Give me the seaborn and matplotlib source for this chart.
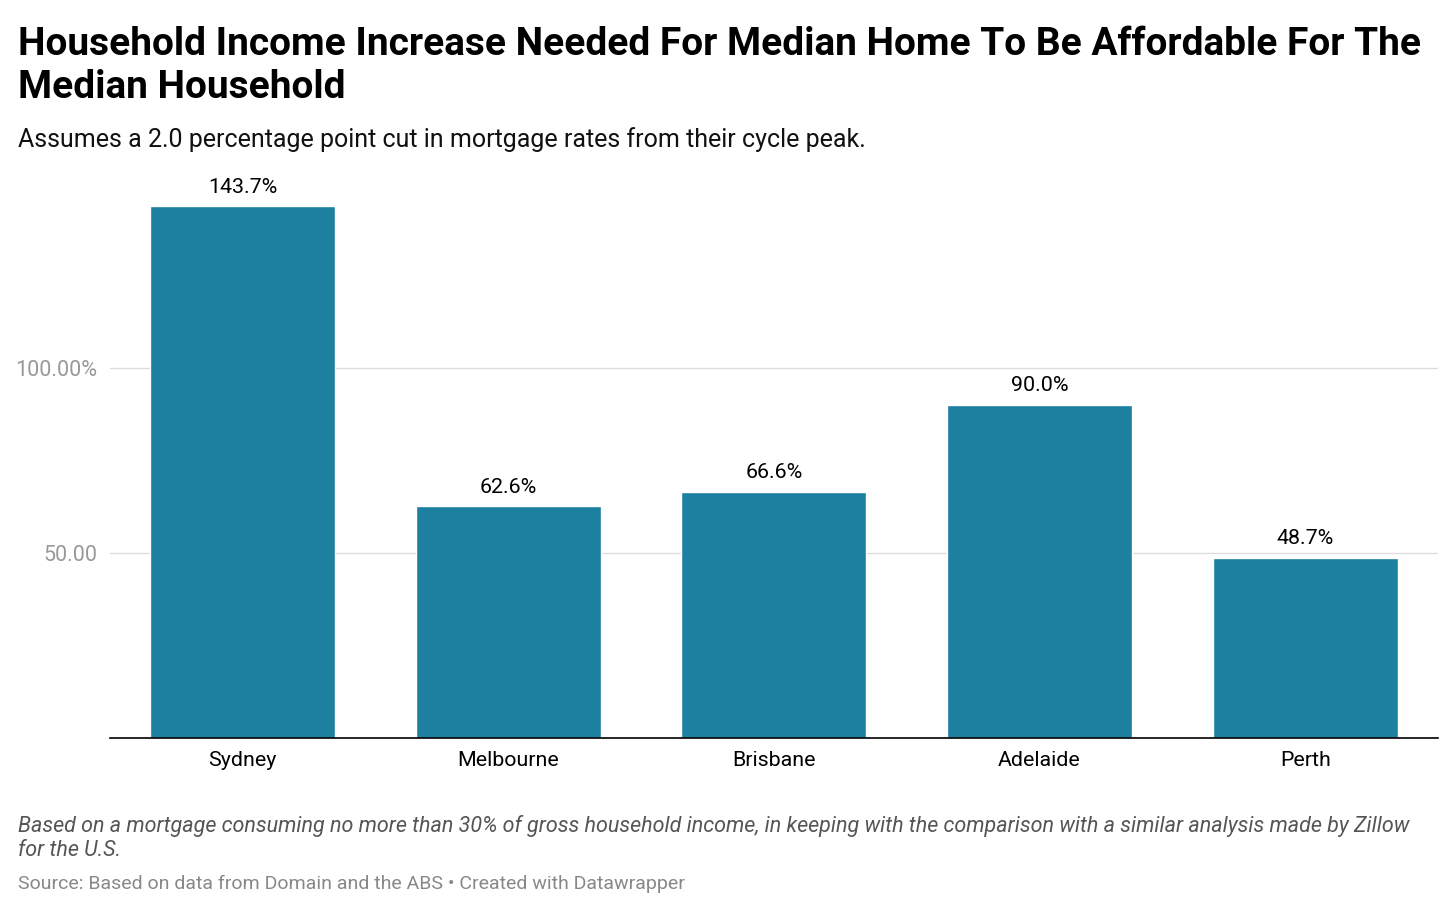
import matplotlib
matplotlib.use("Agg")
import matplotlib.pyplot as plt
import seaborn as sns
import pandas as pd

cities = ["Sydney", "Melbourne", "Brisbane", "Adelaide", "Perth"]
values = [143.7, 62.6, 66.6, 90.0, 48.7]
ytick_vals = [50, 100]
ytick_labels = ["50.00", "100.00%"]

sns.set_theme(style="white")
plt.rcParams["font.family"] = ["Roboto", "DejaVu Sans"]

df = pd.DataFrame({"city": cities, "value": values})

W, H = 1456, 913
fig = plt.figure(figsize=(W / 100, H / 100), dpi=100)
ax = fig.add_axes([109.6 / W, 175 / H, (1438 - 109.6) / W, (738 - 200) / H])

sns.barplot(data=df, x="city", y="value", color="#1d80a1", saturation=1,
            width=0.696, ax=ax, zorder=3)
ax.set_ylim(0, (738 - 200) / 3.7)
ax.set_xlim(-0.5, len(cities) - 0.5)

ax.set_yticks(ytick_vals)
ax.set_yticklabels(ytick_labels)
ax.yaxis.grid(True, color="#dddddd", linewidth=1, zorder=0)
ax.tick_params(axis="y", length=0, pad=9, labelsize=15.5, labelcolor="#999999")
ax.tick_params(axis="x", length=0, pad=9, labelsize=15.4, labelcolor="#000000")
ax.set_xlabel("")
ax.set_ylabel("")
for s in ["top", "right", "left"]:
    ax.spines[s].set_visible(False)
ax.spines["bottom"].set_color("#000000")
ax.spines["bottom"].set_linewidth(1.2)
ax.spines["bottom"].set_zorder(4)

for p, v in zip(ax.patches, values):
    ax.annotate(f"{v:.1f}%", (p.get_x() + p.get_width() / 2, p.get_height()),
                xytext=(0, 7), textcoords="offset points", ha="center", va="bottom",
                fontsize=15.4, color="#000000")

def t(y, s, **kw):
    fig.text(18 / W, 1 - y / H, s, ha="left", va="baseline", **kw)

t(55, "Household Income Increase Needed For Median Home To Be Affordable For The",
  fontsize=28, fontweight="bold", color="#000000")
t(98, "Median Household", fontsize=28, fontweight="bold", color="#000000")
t(147, "Assumes a 2.0 percentage point cut in mortgage rates from their cycle peak.",
  fontsize=18, color="#111111")
t(832, "Based on a mortgage consuming no more than 30% of gross household income, in keeping with the comparison with a similar analysis made by Zillow",
  fontsize=15.5, style="italic", color="#555555")
t(856, "for the U.S.", fontsize=15.5, style="italic", color="#555555")
t(889, "Source: Based on data from Domain and the ABS \u2022 Created with Datawrapper",
  fontsize=14, color="#888888")

fig.savefig("out.png", dpi=100, facecolor="white")
